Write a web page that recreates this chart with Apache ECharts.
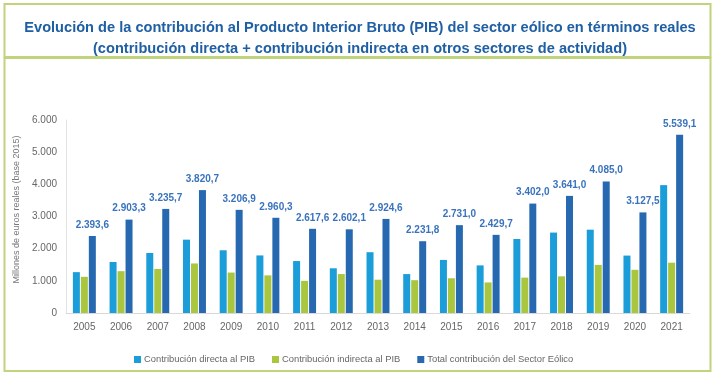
<!DOCTYPE html>
<html>
<head>
<meta charset="utf-8">
<script src="https://cdn.jsdelivr.net/npm/echarts@6/dist/echarts.min.js"></script>
<style>
html,body{margin:0;padding:0;background:#fff;}
#c{width:715px;height:378px;}
</style>
</head>
<body>
<div id="c"></div>
<script>
const years = ['2005','2006','2007','2008','2009','2010','2011','2012','2013','2014','2015','2016','2017','2018','2019','2020','2021'];
const directa = [1270,1585,1865,2280,1950,1790,1615,1390,1890,1210,1650,1480,2300,2500,2590,1785,3975];
const indirecta = [1125,1300,1370,1540,1257,1170,1000,1210,1035,1020,1080,950,1100,1140,1495,1343,1564];
const total = [2393.6,2903.3,3235.7,3820.7,3206.9,2960.3,2617.6,2602.1,2924.6,2231.8,2731.0,2429.7,3402.0,3641.0,4085.0,3127.5,5539.1];
const seriesNames = ['Contribución directa al PIB','Contribución indirecta al PIB','Total contribución del Sector Eólico'];
const titleLines = ['Evolución de la contribución al Producto Interior Bruto (PIB) del sector eólico en términos reales','(contribución directa + contribución indirecta en otros sectores de actividad)'];
const yAxisName = 'Millones de euros reales (base 2015)';

function esNum(v, dec){
  const s = v.toFixed(dec);
  const parts = s.split('.');
  const intp = parts[0].replace(/\B(?=(\d{3})+(?!\d))/g, '.');
  return parts.length > 1 ? intp + ',' + parts[1] : intp;
}

const chart = echarts.init(document.getElementById('c'), null, {renderer:'canvas'});
const border = '#bfd47c';
chart.setOption({
  backgroundColor:'#fff',
  animation:false,
  title:{
    text: titleLines.join('\n'),
    left:355, top:12, textAlign:'center',
    textStyle:{fontFamily:'Liberation Sans', fontWeight:'bold', fontSize:14.6, color:'#1f5fa3', lineHeight:21}
  },
  graphic:[
    {type:'rect', shape:{x:4.5, y:4, width:706, height:53}, style:{fill:null, stroke:border, lineWidth:2}},
    {type:'rect', shape:{x:4.5, y:58, width:706, height:313}, style:{fill:null, stroke:border, lineWidth:2}}
  ],
  legend:{
    data: seriesNames,
    left:129, top:350,
    itemWidth:7, itemHeight:7, itemGap:17,
    icon:'rect',
    textStyle:{fontFamily:'Liberation Sans', fontSize:9.4, color:'#666', padding:[0,0,0,-2]}
  },
  grid:{left:66, right:25, top:120, bottom:65},
  xAxis:{
    type:'category', data:years,
    axisLine:{lineStyle:{color:'#d9d9d9'}},
    axisTick:{show:false},
    axisLabel:{fontFamily:'Liberation Sans', fontSize:10, color:'#666', margin:9}
  },
  yAxis:{
    type:'value', min:0, max:6000, interval:1000,
    name: yAxisName, nameLocation:'middle', nameGap:36, nameRotate:90,
    nameTextStyle:{fontFamily:'Liberation Sans', fontSize:9, color:'#777', padding:[0,0,0,14]},
    axisLine:{show:true, lineStyle:{color:'#e3e3e3'}},
    axisTick:{show:false},
    splitLine:{show:false},
    axisLabel:{fontFamily:'Liberation Sans', fontSize:10, color:'#666', margin:9, formatter:v=>esNum(v,0)}
  },
  series:[
    {name:seriesNames[0], type:'bar', data:directa, barWidth:7, barGap:'14%', itemStyle:{color:'#1a9dd9'}},
    {name:seriesNames[1], type:'bar', data:indirecta, barWidth:7, barGap:'14%', itemStyle:{color:'#a9c63e'}},
    {name:seriesNames[2], type:'bar', data:total, barWidth:7, barGap:'14%', itemStyle:{color:'#2769b1'},
      label:{show:true, position:'top', distance:6, fontFamily:'Liberation Sans', fontWeight:'bold', fontSize:10, color:'#3a73bd',
        formatter:p=>esNum(p.value,1)}}
  ]
});
</script>
</body>
</html>
